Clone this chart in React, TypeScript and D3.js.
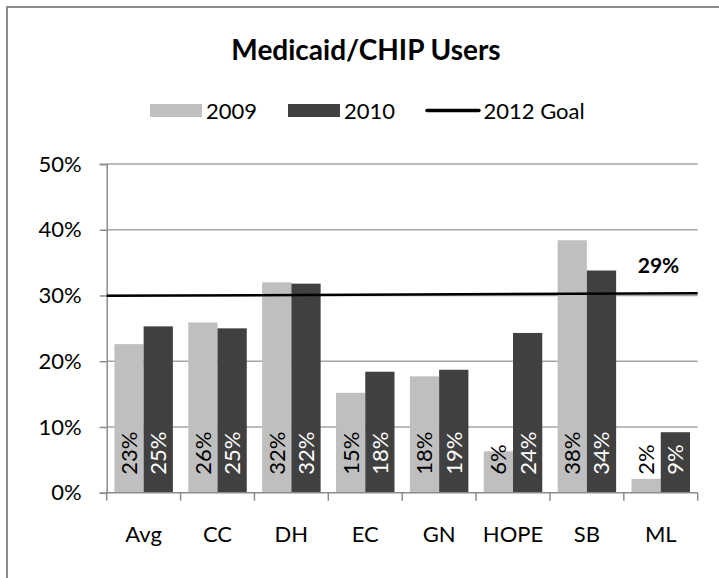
import React, { useEffect, useRef } from 'react';
import * as d3 from 'd3';

// chart data
const categories = ['Avg', 'CC', 'DH', 'EC', 'GN', 'HOPE', 'SB', 'ML'];
const seriesNames = ['2009', '2010'];
const values2009 = [0.226, 0.259, 0.32, 0.152, 0.177, 0.063, 0.384, 0.021];
const values2010 = [0.253, 0.25, 0.318, 0.184, 0.187, 0.243, 0.338, 0.092];
const goalValues = [0.2995, 0.3035]; // goal line, left end / right end
const goalName = '2012 Goal';
const goalLabel = '29%';
const yTicks = [0, 0.1, 0.2, 0.3, 0.4, 0.5];
const title = 'Medicaid/CHIP Users';

const colors = { '2009': '#bfbfbf', '2010': '#404040' };
const FONT = 'Lato, "Open Sans", sans-serif';

const App = () => {
  const svgRef = useRef<SVGSVGElement>(null);

  useEffect(() => {
    const svg = d3.select(svgRef.current);
    svg.selectAll('*').remove();

    const width = 719;
    const height = 578;
    const margin = { top: 164, right: 21.3, bottom: 85.3, left: 106.7 };

    // outer chart border (runs off the right / bottom of the picture)
    svg
      .append('rect')
      .attr('x', 7)
      .attr('y', 7)
      .attr('width', width + 20)
      .attr('height', height + 20)
      .attr('fill', 'white')
      .attr('stroke', '#8c8c8c')
      .attr('stroke-width', 2);

    const x = d3
      .scaleBand()
      .domain(categories)
      .range([margin.left, width - margin.right])
      .padding(0);

    const xSub = d3
      .scaleBand()
      .domain(seriesNames)
      .range([0, x.bandwidth()])
      .paddingInner(0)
      .paddingOuter(0.263);

    const y = d3
      .scaleLinear()
      .domain([0, 0.5])
      .range([height - margin.bottom, margin.top]);

    // gridlines
    svg
      .append('g')
      .selectAll('line')
      .data(yTicks.filter((t) => t > 0))
      .join('line')
      .attr('x1', margin.left)
      .attr('x2', width - margin.right)
      .attr('y1', (d) => y(d))
      .attr('y2', (d) => y(d))
      .attr('stroke', '#a6a6a6')
      .attr('stroke-width', 1.5);

    // Y axis
    const yAxis = svg
      .append('g')
      .attr('transform', `translate(${margin.left},0)`)
      .call(
        d3
          .axisLeft(y)
          .tickValues(yTicks)
          .tickFormat(d3.format('.0%'))
          .tickSize(7)
          .tickPadding(18)
      );
    yAxis.select('.domain').attr('stroke', '#8c8c8c').attr('stroke-width', 1.5);
    yAxis.selectAll('.tick line').attr('stroke', '#8c8c8c').attr('stroke-width', 1.5);
    yAxis
      .selectAll('.tick text')
      .attr('font-family', FONT)
      .attr('font-size', 22)
      .attr('fill', '#000');

    // bars
    const rows = categories.map((c, i) => ({
      cat: c,
      vals: [
        { s: '2009', v: values2009[i] },
        { s: '2010', v: values2010[i] },
      ],
    }));

    const groups = svg
      .append('g')
      .selectAll('g')
      .data(rows)
      .join('g')
      .attr('transform', (d) => `translate(${x(d.cat)},0)`);

    groups
      .selectAll('rect')
      .data((d) => d.vals)
      .join('rect')
      .attr('x', (d) => xSub(d.s))
      .attr('y', (d) => y(d.v))
      .attr('width', xSub.bandwidth())
      .attr('height', (d) => y(0) - y(d.v))
      .attr('fill', (d) => colors[d.s]);

    // value labels, rotated, sitting at the bar base
    groups
      .selectAll('text')
      .data((d) => d.vals)
      .join('text')
      .attr('transform', (d) => `translate(${xSub(d.s) + xSub.bandwidth() / 2},${y(0) - 18}) rotate(-90)`)
      .attr('dy', '0.36em')
      .attr('text-anchor', 'start')
      .attr('font-family', FONT)
      .attr('font-size', 22)
      .attr('fill', (d) => (d.s === '2010' ? '#fff' : '#000'))
      .text((d) => `${Math.round(d.v * 100)}%`);

    // X axis
    const xAxisG = svg.append('g').attr('transform', `translate(0,${y(0)})`);
    xAxisG
      .append('line')
      .attr('x1', margin.left)
      .attr('x2', width - margin.right)
      .attr('stroke', '#8c8c8c')
      .attr('stroke-width', 1.5);
    const bounds = categories.map((c) => x(c)).concat([width - margin.right]);
    xAxisG
      .selectAll('line.tick')
      .data(bounds)
      .join('line')
      .attr('class', 'tick')
      .attr('x1', (d) => d)
      .attr('x2', (d) => d)
      .attr('y1', 0)
      .attr('y2', 8)
      .attr('stroke', '#8c8c8c')
      .attr('stroke-width', 1.5);
    xAxisG
      .selectAll('text')
      .data(categories)
      .join('text')
      .attr('x', (d) => x(d) + x.bandwidth() / 2)
      .attr('y', 49.5)
      .attr('text-anchor', 'middle')
      .attr('font-family', FONT)
      .attr('font-size', 22)
      .attr('fill', '#000')
      .text((d) => d);

    // goal line
    svg
      .append('line')
      .attr('x1', margin.left)
      .attr('x2', width - margin.right)
      .attr('y1', y(goalValues[0]))
      .attr('y2', y(goalValues[1]))
      .attr('stroke', '#000')
      .attr('stroke-width', 2.5);

    svg
      .append('text')
      .attr('x', 658.5)
      .attr('y', 273)
      .attr('text-anchor', 'middle')
      .attr('font-family', FONT)
      .attr('font-weight', 'bold')
      .attr('font-size', 21)
      .attr('fill', '#000')
      .text(goalLabel);

    // title
    svg
      .append('text')
      .attr('x', 366)
      .attr('y', 60)
      .attr('text-anchor', 'middle')
      .attr('font-family', FONT)
      .attr('font-weight', 'bold')
      .attr('font-size', 28)
      .attr('fill', '#000')
      .text(title);

    // legend
    const legend = svg.append('g').attr('font-family', FONT).attr('font-size', 22);
    const legendX = [150, 288];
    seriesNames.forEach((s, i) => {
      legend
        .append('rect')
        .attr('x', legendX[i])
        .attr('y', 104)
        .attr('width', 52)
        .attr('height', 13)
        .attr('fill', colors[s]);
      legend
        .append('text')
        .attr('x', legendX[i] + 56)
        .attr('y', 119)
        .attr('fill', '#000')
        .text(s);
    });
    legend
      .append('line')
      .attr('x1', 427)
      .attr('x2', 479)
      .attr('y1', 110.5)
      .attr('y2', 110.5)
      .attr('stroke', '#000')
      .attr('stroke-width', 3.5)
      .attr('stroke-linecap', 'round');
    legend
      .append('text')
      .attr('x', 483.5)
      .attr('y', 119)
      .attr('fill', '#000')
      .text(goalName);
  }, []);

  return (
    <div style={{ position: 'absolute', left: 0, top: 0, width: 719, height: 578, overflow: 'hidden' }}>
      <svg ref={svgRef} width={719} height={578} style={{ display: 'block', background: 'white' }}></svg>
    </div>
  );
};

export default App;
